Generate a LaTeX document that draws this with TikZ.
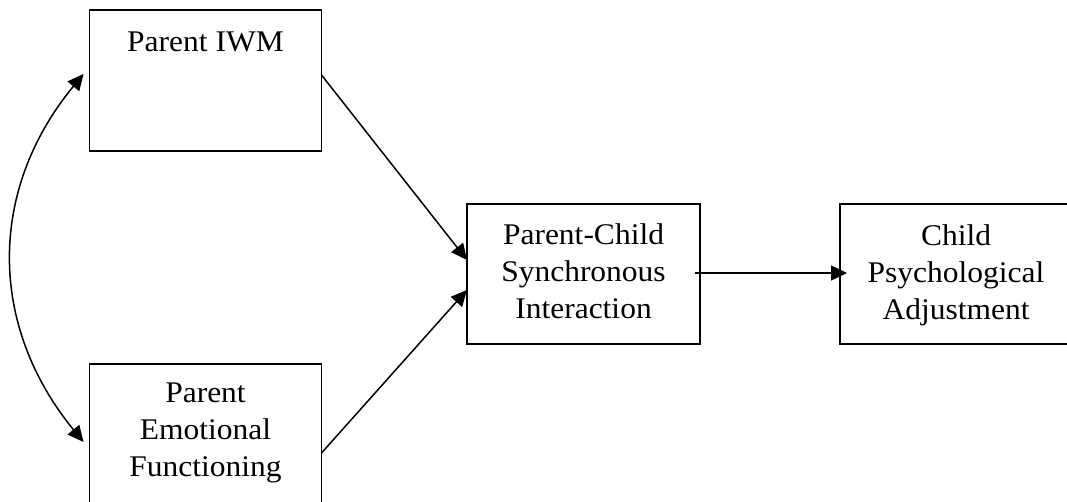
\documentclass[tikz,border=0pt]{standalone}
\usepackage{fontspec}
\setmainfont{Liberation Serif}[FakeStretch=1.05]
\usetikzlibrary{arrows.meta}
\begin{document}
\begin{tikzpicture}[x=1pt,y=-1pt,
  box/.style={draw, line width=1.9pt, inner sep=0pt, outer sep=0pt,
              minimum width=232pt, minimum height=141pt},
  txt/.style={inner sep=0pt, anchor=north, align=center,
              font=\fontsize{30}{37}\selectfont},
  link/.style={line width=1.5pt, -{Triangle[length=16pt,width=15pt]}},
  both/.style={line width=1.5pt, {Triangle[length=16pt,width=15pt]}-{Triangle[length=16pt,width=15pt]}}]
\useasboundingbox (0,0) rectangle (1067,502);

% boxes
\node[box] (iwm) at (205.5,80.5) {};
\node[box] (emo) at (205.5,434.5) {};
\node[box, minimum width=233pt, minimum height=140pt] (sync) at (583.5,274) {};
\node[box, minimum height=140pt] (adj) at (956,274) {};

% box texts
\node[txt] (iwmtext) at (205.5,32) {Parent IWM};
\node[txt] (emotext) at (205.5,383) {Parent\\Emotional\\Functioning};
\node[txt] (synctext) at (583.5,223) {Parent-Child\\Synchronous\\Interaction};
\node[txt] (adjtext) at (956,224) {Child\\Psychological\\Adjustment};

% path arrows
\draw[link] ([yshift=5.5pt]iwm.east) -- ([yshift=14pt]sync.west);
\draw[link] ([yshift=-18.5pt]emo.east) -- ([yshift=-16pt]sync.west);
\draw[link] ([xshift=-5pt,yshift=1pt]sync.east) -- ([xshift=7pt,yshift=1pt]adj.west);

% correlation between the two parent variables
\coordinate (ctop) at ([xshift=-6pt,yshift=6.5pt]iwm.west);
\coordinate (cbot) at ([xshift=-6pt,yshift=-7.5pt]emo.west);
\draw[both] (ctop) .. controls (-12,190) and (-12,325) .. (cbot);
\end{tikzpicture}
\end{document}
